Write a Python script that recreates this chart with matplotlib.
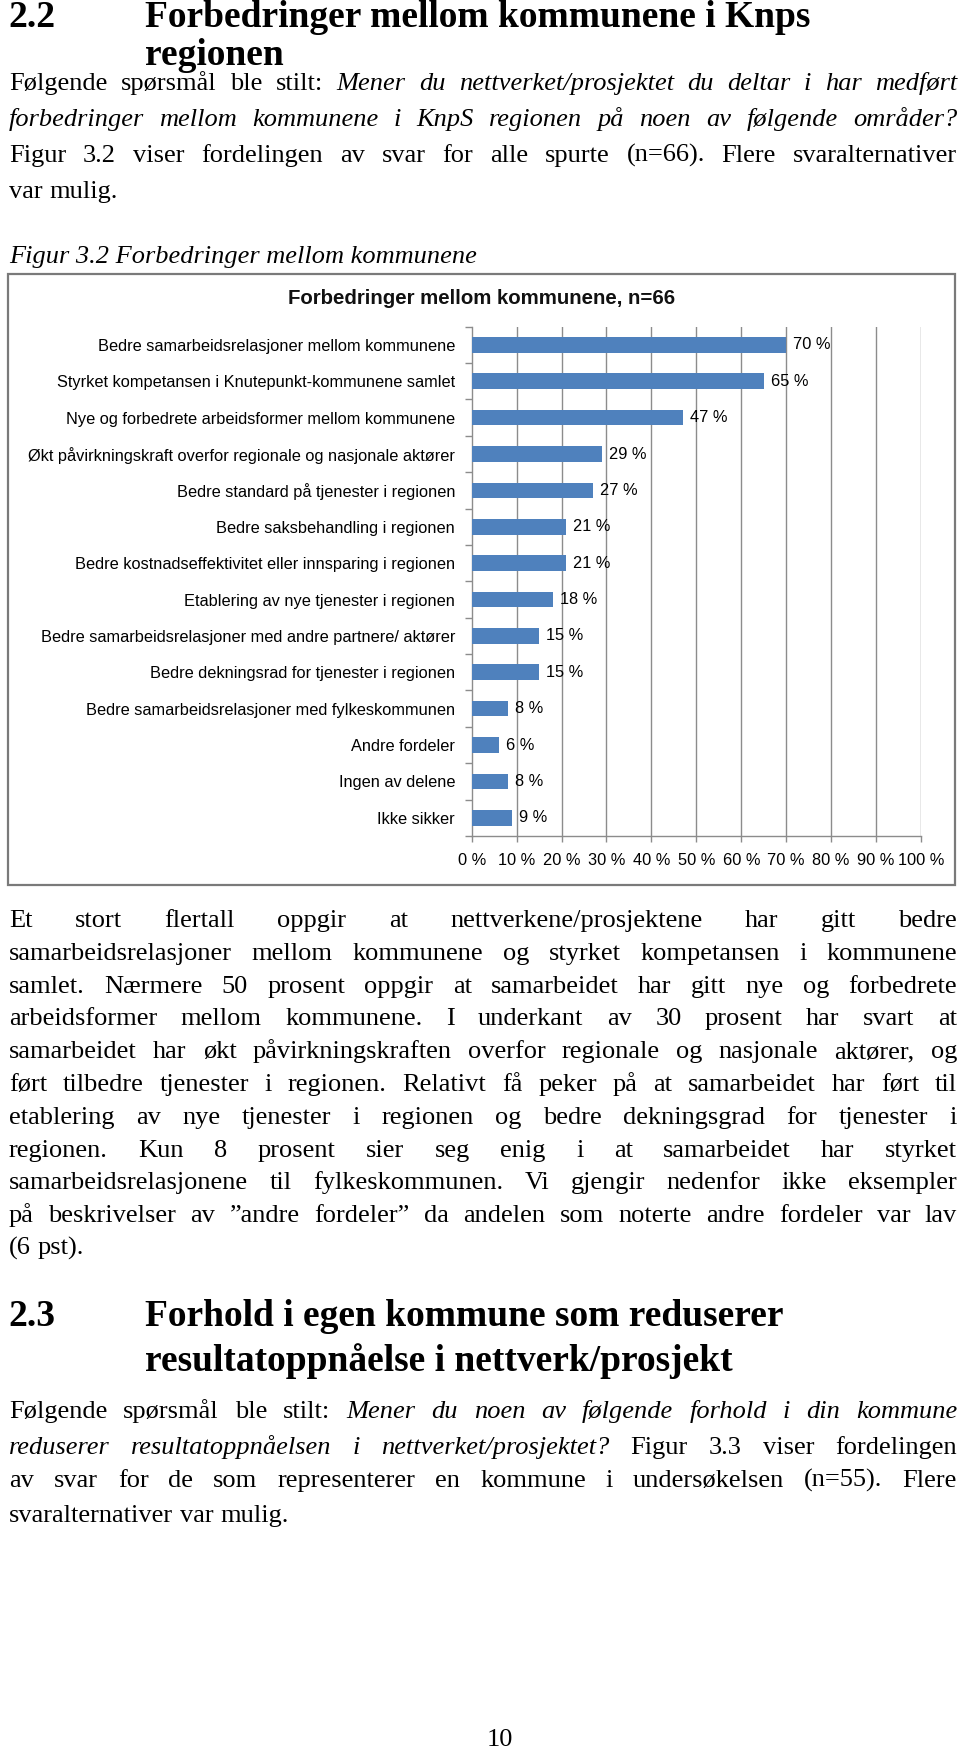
import matplotlib
matplotlib.use("Agg")
import matplotlib.pyplot as plt
from matplotlib.patches import Rectangle

# ---------------- data ----------------
categories = [
    "Bedre samarbeidsrelasjoner mellom kommunene",
    "Styrket kompetansen i Knutepunkt-kommunene samlet",
    "Nye og forbedrete arbeidsformer mellom kommunene",
    "Økt påvirkningskraft overfor regionale og nasjonale aktører",
    "Bedre standard på tjenester i regionen",
    "Bedre saksbehandling i regionen",
    "Bedre kostnadseffektivitet eller innsparing i regionen",
    "Etablering av nye tjenester i regionen",
    "Bedre samarbeidsrelasjoner med andre partnere/ aktører",
    "Bedre dekningsrad for tjenester i regionen",
    "Bedre samarbeidsrelasjoner med fylkeskommunen",
    "Andre fordeler",
    "Ingen av delene",
    "Ikke sikker",
]
values = [70, 65, 47, 29, 27, 21, 21, 18, 15, 15, 8, 6, 8, 9]
xticks = [0, 10, 20, 30, 40, 50, 60, 70, 80, 90, 100]
xticklabels = [f"{t} %" for t in xticks]
chart_title = "Forbedringer mellom kommunene, n=66"

W, H = 960, 1750
fig = plt.figure(figsize=(W / 100, H / 100), dpi=100)
fig.patch.set_facecolor("white")
renderer = fig.canvas.get_renderer()

SERIF = "Liberation Serif"
SANS = "Liberation Sans"
BODY = 19.0
HEAD = 27.0


def fx(x):
    return x / W


def fy(y):
    return 1 - y / H


def put(x, y, s, **kw):
    kw.setdefault("family", SERIF)
    kw.setdefault("va", "baseline")
    kw.setdefault("color", "black")
    return fig.text(fx(x), fy(y), s, **kw)


def justify(segments, y, x0=9, x1=957, size=BODY, full=True):
    words = []
    for txt, st in segments:
        for w in txt.split():
            words.append((w, st))
    objs = []
    widths = []
    for w, st in words:
        t = put(0, y, w, fontsize=size, style=st, ha="left")
        widths.append(t.get_window_extent(renderer).width)
        objs.append(t)
    space = size * 100 / 72 * 0.25
    if full and len(words) > 1:
        gap = (x1 - x0 - sum(widths)) / (len(words) - 1)
    else:
        gap = space
    x = x0
    for t, wd in zip(objs, widths):
        t.set_position((fx(x), fy(y)))
        x += wd + gap


# ---------------- heading 2.2 ----------------
put(8, 27, "2.2", fontsize=HEAD, weight="bold")
put(145, 27, "Forbedringer mellom kommunene i Knps", fontsize=HEAD, weight="bold")
put(145, 65, "regionen", fontsize=HEAD, weight="bold")

# paragraph 1
justify([("Følgende spørsmål ble stilt:", "normal"),
         ("Mener du nettverket/prosjektet du deltar i har medført", "italic")], 90)
justify([("forbedringer mellom kommunene i KnpS regionen på noen av følgende områder?", "italic")], 126)
justify([("Figur 3.2 viser fordelingen av svar for alle spurte (n=66). Flere svaralternativer", "normal")], 162)
justify([("var mulig.", "normal")], 198, full=False)

put(9, 263, "Figur 3.2 Forbedringer mellom kommunene", fontsize=BODY, style="italic")

# ---------------- chart frame ----------------
fig.patches.append(Rectangle((fx(8), fy(885)), fx(955) - fx(8), fy(274) - fy(885),
                             transform=fig.transFigure, fill=False,
                             edgecolor="#7a7a7a", linewidth=1.6))

fig.text(fx(482), fy(298), chart_title, family=SANS, fontsize=14.7, weight="bold",
         ha="center", va="center", color="#111111")

x0p, x1p, y0p, y1p = 471.7, 921.0, 326.7, 836.0
ax = fig.add_axes([fx(x0p), fy(y1p), fx(x1p) - fx(x0p), fy(y0p) - fy(y1p)])
n = len(categories)
pos = list(range(n))
ax.barh(pos, values, height=0.43, color="#4F81BD", zorder=3)
ax.set_ylim(n - 0.5, -0.5)
ax.set_xlim(0, 100)

grid_c = "#8c8c8c"
for t in xticks[1:]:
    ax.axvline(t, color=grid_c, linewidth=1.0, zorder=1)

LBL = 11.8
ax.set_yticks(pos)
ax.set_yticklabels(categories, family=SANS, fontsize=LBL)
ax.set_yticks([p - 0.5 for p in range(n + 1)], minor=True)
ax.tick_params(axis="y", which="major", length=0, pad=12)
ax.tick_params(axis="y", which="minor", length=5, color=grid_c, width=1.0, direction="out")

ax.set_xticks(xticks)
ax.set_xticklabels(xticklabels, family=SANS, fontsize=LBL)
ax.tick_params(axis="x", length=4, color=grid_c, width=1.0, pad=8, direction="out")

for s in ["top", "right"]:
    ax.spines[s].set_visible(False)
for s in ["left", "bottom"]:
    ax.spines[s].set_color(grid_c)
    ax.spines[s].set_linewidth(1.0)

for p, v in zip(pos, values):
    ax.annotate(f"{v} %", xy=(v, p), xytext=(7, 0), textcoords="offset pixels",
                ha="left", va="center", family=SANS, fontsize=LBL, color="black")

# ---------------- paragraph 2 ----------------
para2 = [
    "Et stort flertall oppgir at nettverkene/prosjektene har gitt bedre",
    "samarbeidsrelasjoner mellom kommunene og styrket kompetansen i kommunene",
    "samlet. Nærmere 50 prosent oppgir at samarbeidet har gitt nye og forbedrete",
    "arbeidsformer mellom kommunene. I underkant av 30 prosent har svart at",
    "samarbeidet har økt påvirkningskraften overfor regionale og nasjonale aktører, og",
    "ført tilbedre tjenester i regionen. Relativt få peker på at samarbeidet har ført til",
    "etablering av nye tjenester i regionen og bedre dekningsgrad for tjenester i",
    "regionen. Kun 8 prosent sier seg enig i at samarbeidet har styrket",
    "samarbeidsrelasjonene til fylkeskommunen. Vi gjengir nedenfor ikke eksempler",
    "på beskrivelser av ”andre fordeler” da andelen som noterte andre fordeler var lav",
    "(6 pst).",
]
y = 927
for i, line in enumerate(para2):
    justify([(line, "normal")], y, full=(i < len(para2) - 1))
    y += 32.8

# ---------------- heading 2.3 ----------------
put(8, 1326, "2.3", fontsize=HEAD, weight="bold")
put(145, 1326, "Forhold i egen kommune som reduserer", fontsize=HEAD, weight="bold")
put(145, 1371, "resultatoppnåelse i nettverk/prosjekt", fontsize=HEAD, weight="bold")

justify([("Følgende spørsmål ble stilt:", "normal"),
         ("Mener du noen av følgende forhold i din kommune", "italic")], 1418)
justify([("reduserer resultatoppnåelsen i nettverket/prosjektet?", "italic"),
         ("Figur 3.3 viser fordelingen", "normal")], 1454)
justify([("av svar for de som representerer en kommune i undersøkelsen (n=55). Flere", "normal")], 1487)
justify([("svaralternativer var mulig.", "normal")], 1522, full=False)

put(500, 1746, "10", fontsize=BODY, ha="center")

fig.savefig("out.png", dpi=100, facecolor="white")
